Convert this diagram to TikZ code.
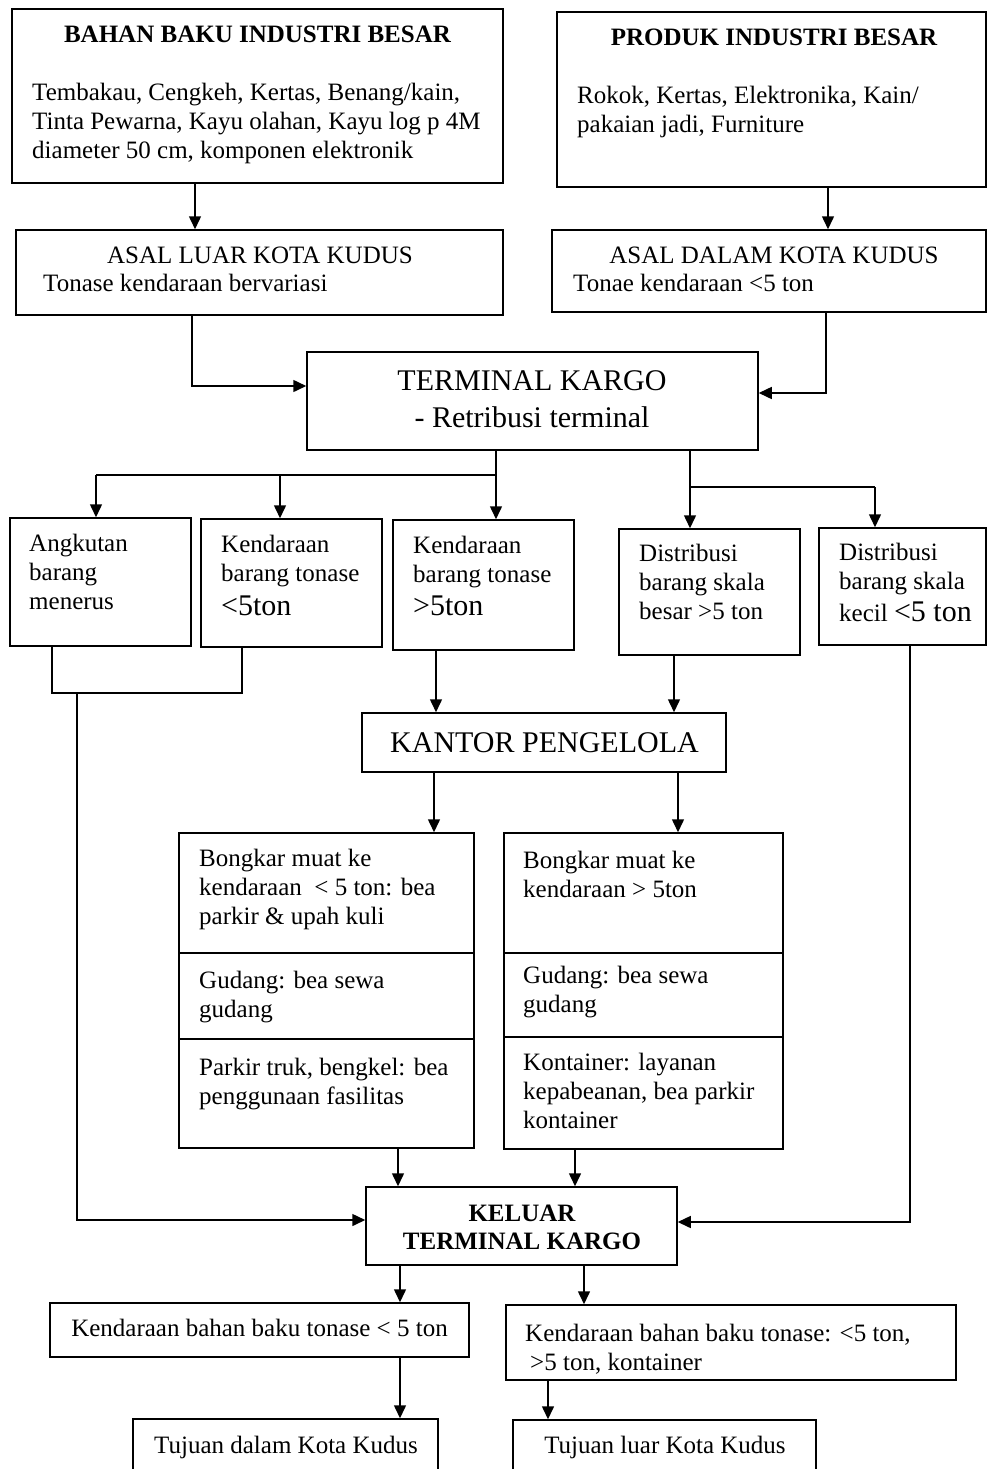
\documentclass[tikz,border=0pt]{standalone}
\usepackage{fontspec}
\setmainfont{Liberation Serif}
\usetikzlibrary{arrows.meta,fit}
\newcommand\bodyfont{\fontsize{25}{29}\selectfont}
\newcommand\bigfont{\fontsize{30}{37}\selectfont}
\begin{document}
\begin{tikzpicture}[x=1pt,y=-1pt,
  box/.style={draw, line width=1.5pt, inner sep=0pt},
  link/.style={line width=1.5pt},
  arr/.style={link, -{Triangle[length=13pt,width=12pt]}},
  txt/.style={anchor=north west, inner sep=0pt, align=left, font=\bodyfont,
              yshift=17.5pt, execute at begin node=\strut},
  line/.style={anchor=base west, inner sep=0pt, font=\bodyfont},
  ctr/.style={anchor=base, inner sep=0pt, font=\bodyfont},
  bold/.style={anchor=base, inner sep=0pt, font=\bodyfont\bfseries},
  big/.style={anchor=base, inner sep=0pt, font=\bigfont}]
\useasboundingbox (0,0) rectangle (987,1469);

% --- origins of goods
\node[box, fit={(12,9)(503,183)}] (b1) {};
\node[bold] (b1t) at (257.5,43) {BAHAN BAKU INDUSTRI BESAR};
\node[txt] (b1x) at (32,100) {Tembakau, Cengkeh, Kertas, Benang/kain,\\Tinta Pewarna, Kayu olahan, Kayu log p 4M\\diameter 50 cm, komponen elektronik};

\node[box, fit={(557,12)(986,187)}] (b2) {};
\node[bold] (b2t) at (774,46) {PRODUK INDUSTRI BESAR};
\node[txt] (b2x) at (577,103) {Rokok, Kertas, Elektronika, Kain/\\pakaian jadi, Furniture};

\node[box, fit={(16,230)(503,315)}] (b3) {};
\node[ctr] (b3t) at (260,263) {ASAL LUAR KOTA KUDUS};
\node[line] (b3x) at (43,291) {Tonase kendaraan bervariasi};

\node[box, fit={(552,230)(986,312)}] (b4) {};
\node[ctr] (b4t) at (774,263) {ASAL DALAM KOTA KUDUS};
\node[line] (b4x) at (573,291) {Tonae kendaraan <5 ton};

\draw[arr] (b1.south -| 195,0) -- (b3.north -| 195,0);
\draw[arr] (b2.south -| 828,0) -- (b4.north -| 828,0);

% --- cargo terminal
\node[box, fit={(307,352)(758,450)}] (tk) {};
\node[big] (tk1) at (532,390) {TERMINAL KARGO};
\node[big] (tk2) at (532,427) {- Retribusi terminal};

\coordinate (inL) at (192,386);
\coordinate (inR) at (826,393);
\draw[arr] (b3.south -| inL) -- (inL) -- (inL -| tk.west);
\draw[arr] (b4.south -| inR) -- (inR) -- (inR -| tk.east);

% --- vehicle / distribution types
\node[box, fit={(10,518)(191,646)}] (nA) {};
\node[txt] (nAx) at (29,551) {Angkutan\\barang\\menerus};

\node[box, fit={(201,519)(382,647)}] (nB) {};
\node[txt] (nBx) at (221,552) {Kendaraan\\barang tonase};
\node[line, font=\bigfont] (nBy) at (221,615) {<5ton};

\node[box, fit={(393,520)(574,650)}] (nC) {};
\node[txt] (nCx) at (413,553) {Kendaraan\\barang tonase};
\node[line, font=\bigfont] (nCy) at (413,615) {>5ton};

\node[box, fit={(619,529)(800,655)}] (nD) {};
\node[txt] (nDx) at (639,561) {Distribusi\\barang skala\\besar >5 ton};

\node[box, fit={(819,528)(986,645)}] (nE) {};
\node[txt] (nEx) at (839,560) {Distribusi\\barang skala};
\node[line] (nEy) at (839,621) {kecil {\bigfont<5 ton}};

\coordinate (jL) at (496,475);
\coordinate (hA) at (96,475);
\coordinate (hB) at (280,475);
\draw[link] (tk.south -| jL) -- (jL) -- (hA);
\draw[arr] (jL) -- (jL |- nC.north);
\draw[arr] (hA) -- (hA |- nA.north);
\draw[arr] (hB) -- (hB |- nB.north);

\coordinate (jR) at (690,487);
\coordinate (hE) at (875,487);
\draw[link] (tk.south -| jR) -- (jR) -- (hE);
\draw[arr] (jR) -- (jR |- nD.north);
\draw[arr] (hE) -- (hE |- nE.north);

% --- management office
\node[box, fit={(362,713)(726,772)}] (kp) {};
\node[big] (kpt) at (544.5,752) {KANTOR PENGELOLA};

\draw[arr] (nC.south -| 436,0) -- (kp.north -| 436,0);
\draw[arr] (nD.south -| 674,0) -- (kp.north -| 674,0);

% --- services
\node[box, fit={(179,833)(474,1148)}] (sL) {};
\draw[link] (sL.west |- 0,953) -- (sL.east |- 0,953);
\draw[link] (sL.west |- 0,1039) -- (sL.east |- 0,1039);
\node[txt] (sL1) at (199,866) {Bongkar muat ke\\kendaraan \ < 5 ton: bea\\parkir \& upah kuli};
\node[txt] (sL2) at (199,988) {Gudang: bea sewa\\gudang};
\node[txt] (sL3) at (199,1075) {Parkir truk, bengkel: bea\\penggunaan fasilitas};

\node[box, fit={(504,833)(783,1149)}] (sR) {};
\draw[link] (sR.west |- 0,953) -- (sR.east |- 0,953);
\draw[link] (sR.west |- 0,1037) -- (sR.east |- 0,1037);
\node[txt] (sR1) at (523,868) {Bongkar muat ke\\kendaraan > 5ton};
\node[txt] (sR2) at (523,983) {Gudang: bea sewa\\gudang};
\node[txt] (sR3) at (523,1070) {Kontainer: layanan\\kepabeanan, bea parkir\\kontainer};

\draw[arr] (kp.south -| 434,0) -- (sL.north -| 434,0);
\draw[arr] (kp.south -| 678,0) -- (sR.north -| 678,0);

% --- exit
\node[box, fit={(366,1187)(677,1265)}] (kl) {};
\node[bold] (kl1) at (522,1221) {KELUAR};
\node[bold] (kl2) at (522,1249) {TERMINAL KARGO};

\draw[arr] (sL.south -| 398,0) -- (kl.north -| 398,0);
\draw[arr] (sR.south -| 575,0) -- (kl.north -| 575,0);

\coordinate (jA) at (52,693);
\coordinate (jB) at (242,693);
\coordinate (jX) at (77,693);
\coordinate (jK) at (77,1220);
\draw[link] (nA.south -| jA) -- (jA) -- (jB) -- (nB.south -| jB);
\draw[arr] (jX) -- (jK) -- (jK -| kl.west);

\coordinate (jE) at (910,1222);
\draw[arr] (nE.south -| jE) -- (jE) -- (jE -| kl.east);

% --- outgoing vehicles and destinations
\node[box, fit={(50,1303)(469,1357)}] (oL) {};
\node[ctr] (oLt) at (259.5,1336) {Kendaraan bahan baku tonase < 5 ton};

\node[box, fit={(506,1305)(956,1380)}] (oR) {};
\node[txt] (oRt) at (525,1341) {Kendaraan bahan baku tonase: <5 ton,\\\hspace*{5pt}>5 ton, kontainer};

\draw[arr] (kl.south -| 400,0) -- (oL.north -| 400,0);
\draw[arr] (kl.south -| 584,0) -- (oR.north -| 584,0);

\node[box, fit={(133,1419)(438,1478)}] (dL) {};
\node[ctr] (dLt) at (286,1453) {Tujuan dalam Kota Kudus};

\node[box, fit={(513,1420)(816,1478)}] (dR) {};
\node[ctr] (dRt) at (665,1453) {Tujuan luar Kota Kudus};

\draw[arr] (oL.south -| 400,0) -- (dL.north -| 400,0);
\draw[arr] (oR.south -| 548,0) -- (dR.north -| 548,0);
\end{tikzpicture}
\end{document}
